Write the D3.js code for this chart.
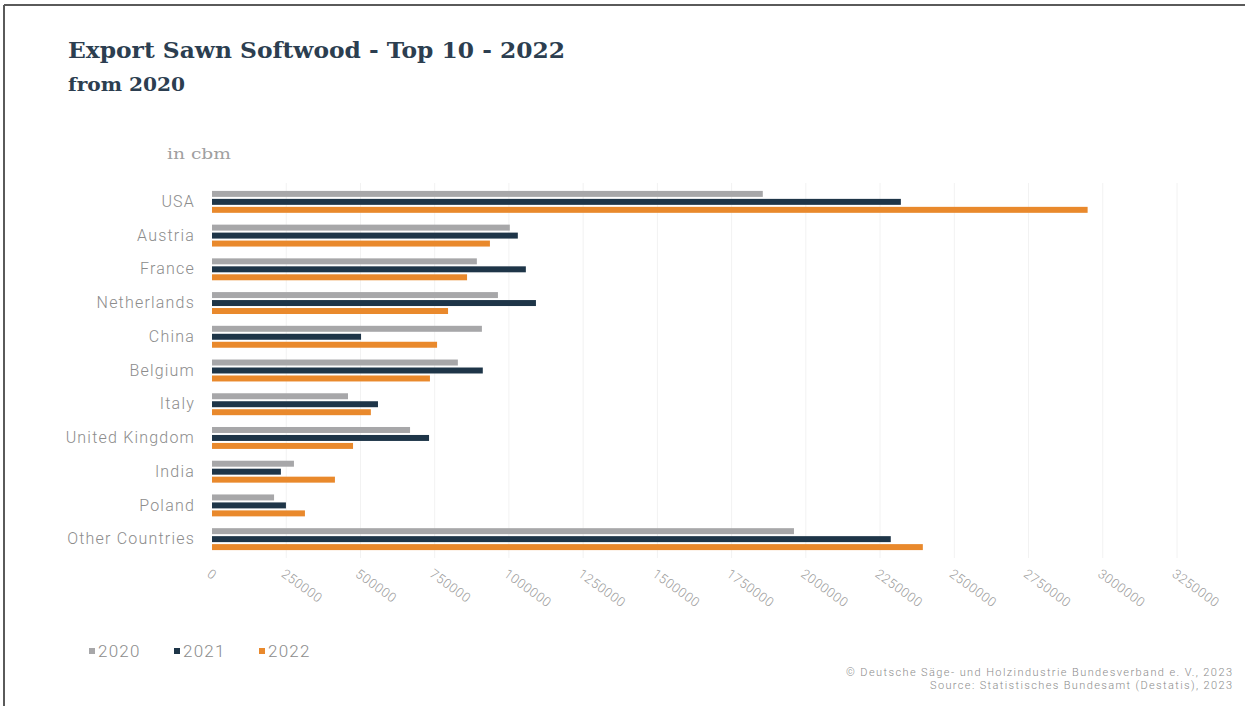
<!DOCTYPE html>
<html>
<head>
<meta charset="utf-8">
<script src="https://cdn.jsdelivr.net/npm/d3@7"></script>
<style>
  html, body { margin: 0; padding: 0; background: #fff; }
  svg { display: block; }
</style>
</head>
<body>
<svg id="chart" width="1245" height="706"></svg>
<script>
// Export volumes of sawn softwood (cbm) by destination
const countries = ["USA", "Austria", "France", "Netherlands", "China", "Belgium",
                   "Italy", "United Kingdom", "India", "Poland", "Other Countries"];
const years = ["2020", "2021", "2022"];
const values2020 = [1855000, 1003000, 892000, 963000, 909000, 828000, 458000, 667000, 276000, 209000, 1960000];
const values2021 = [2320000, 1030000, 1057000, 1091000, 502000, 912000, 559000, 731000, 232000, 249000, 2286000];
const values2022 = [2949000, 936000, 859000, 795000, 758000, 734000, 535000, 475000, 414000, 313000, 2394000];
const xTicks = [0, 250000, 500000, 750000, 1000000, 1250000, 1500000, 1750000,
                2000000, 2250000, 2500000, 2750000, 3000000, 3250000];

const series = [values2020, values2021, values2022];
const colors = ["#a7a7a9", "#1e3548", "#e9892c"];
const labelFont = "Roboto, 'Open Sans', sans-serif";

const svg = d3.select("#chart");
const W = 1245, H = 706;

// frame
svg.append("line").attr("x1", 4).attr("x2", W).attr("y1", 5).attr("y2", 5)
  .attr("stroke", "#5a5a5a").attr("stroke-width", 2);
svg.append("line").attr("x1", 4).attr("x2", 4).attr("y1", 5).attr("y2", H)
  .attr("stroke", "#5a5a5a").attr("stroke-width", 2);

// titles
svg.append("text").attr("x", 68).attr("y", 58)
  .attr("font-family", "'DejaVu Serif', serif").attr("font-weight", "bold")
  .attr("font-size", 23).attr("fill", "#2c3e50")
  .attr("textLength", 497).attr("lengthAdjust", "spacingAndGlyphs")
  .text("Export Sawn Softwood - Top 10 - 2022");
svg.append("text").attr("x", 68).attr("y", 91)
  .attr("font-family", "'DejaVu Serif', serif").attr("font-weight", "bold")
  .attr("font-size", 18).attr("fill", "#2c3e50")
  .attr("textLength", 117).attr("lengthAdjust", "spacingAndGlyphs")
  .text("from 2020");
svg.append("text").attr("x", 167).attr("y", 159)
  .attr("font-family", "'DejaVu Serif', serif")
  .attr("font-size", 14).attr("fill", "#a0a0a0")
  .attr("textLength", 64).attr("lengthAdjust", "spacingAndGlyphs")
  .text("in cbm");

// scales
const x = d3.scaleLinear().domain([0, 3250000]).range([212, 1177]);
const y = d3.scaleBand().domain(countries).range([185, 556]).paddingInner(0.35).paddingOuter(0.175);
const inner = d3.scaleBand().domain(years).range([0, y.bandwidth()]).paddingInner(0.25);

// grid
svg.append("g").selectAll("line").data(xTicks.slice(1)).join("line")
  .attr("x1", d => x(d)).attr("x2", d => x(d))
  .attr("y1", 183).attr("y2", 558)
  .attr("stroke", "#f2f2f2").attr("stroke-width", 1);

// bars
const groups = svg.append("g").selectAll("g").data(countries).join("g")
  .attr("transform", d => `translate(0,${y(d)})`);
groups.selectAll("rect")
  .data((c, i) => years.map((yr, j) => ({ yr, v: series[j][i], j })))
  .join("rect")
  .attr("x", x(0))
  .attr("y", d => inner(d.yr))
  .attr("width", d => x(d.v) - x(0))
  .attr("height", inner.bandwidth())
  .attr("fill", d => colors[d.j]);

// category axis
const yAxis = d3.axisLeft(y).tickSize(0).tickPadding(0);
const gy = svg.append("g").attr("transform", "translate(195,0)").call(yAxis);
gy.select(".domain").remove();
gy.selectAll("text")
  .attr("font-family", labelFont).attr("font-weight", 300)
  .attr("font-size", 16).attr("letter-spacing", 1.2).attr("fill", "#8c8c8c");

// value axis
const xAxis = d3.axisBottom(x).tickValues(xTicks).tickSize(0).tickFormat(d3.format("d"));
const gx = svg.append("g").attr("transform", "translate(0,567)").call(xAxis);
gx.select(".domain").remove();
gx.selectAll("text")
  .attr("font-family", labelFont).attr("font-weight", 300)
  .attr("font-size", 13).attr("letter-spacing", 0.6).attr("fill", "#9c9c9c")
  .attr("text-anchor", "start")
  .attr("dy", "0.6em")
  .attr("transform", "rotate(36)");

// legend
const legend = svg.append("g").attr("transform", "translate(89,651)");
const lg = legend.selectAll("g").data(years).join("g")
  .attr("transform", (d, i) => `translate(${i * 85},0)`);
lg.append("rect").attr("x", 0).attr("y", -3).attr("width", 6).attr("height", 6)
  .attr("fill", (d, i) => colors[i]);
lg.append("text").attr("x", 9).attr("y", 0).attr("dy", "0.35em")
  .attr("font-family", labelFont).attr("font-weight", 300)
  .attr("font-size", 17).attr("letter-spacing", 1.2).attr("fill", "#8c8c8c")
  .text(d => d);

// credits
const credits = ["© Deutsche Säge- und Holzindustrie Bundesverband e. V., 2023",
                 "Source: Statistisches Bundesamt (Destatis), 2023"];
const creditWidths = [386, 302];
svg.append("g").selectAll("text").data(credits).join("text")
  .attr("x", 1232).attr("y", (d, i) => 676 + i * 13)
  .attr("text-anchor", "end")
  .attr("font-family", labelFont).attr("font-weight", 300)
  .attr("font-size", 11).attr("fill", "#8c8c8c")
  .attr("textLength", (d, i) => creditWidths[i]).attr("lengthAdjust", "spacing")
  .text(d => d);
</script>
</body>
</html>
